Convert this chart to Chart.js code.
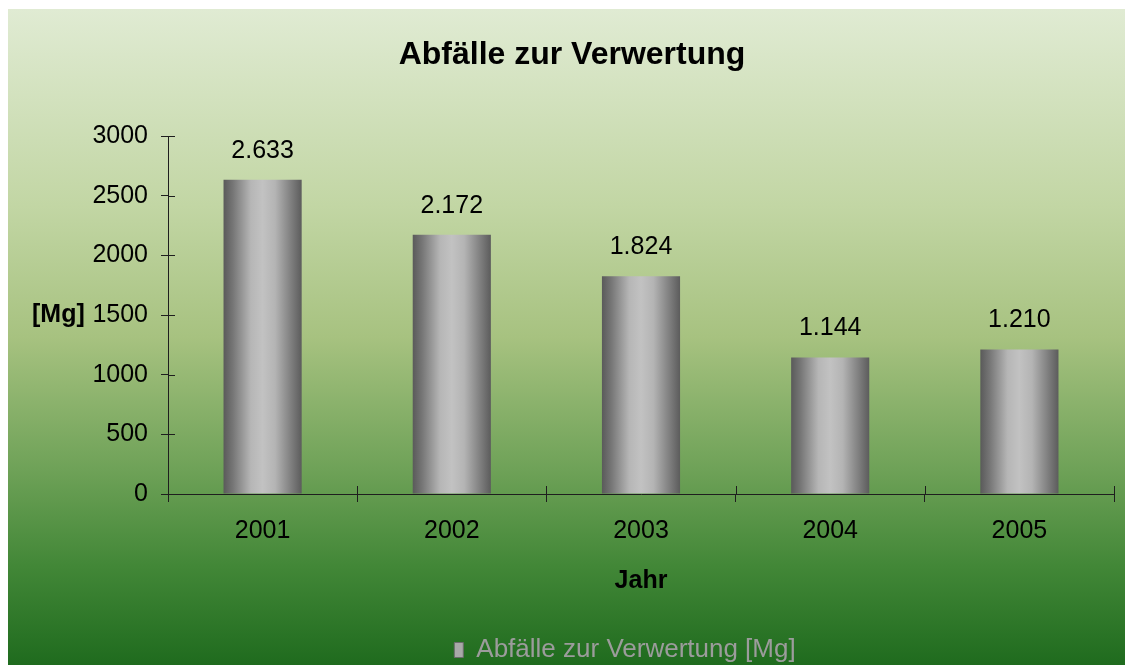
<!DOCTYPE html>
<html>
<head>
<meta charset="utf-8">
<script src="https://cdn.jsdelivr.net/npm/chart.js@4.4.1/dist/chart.umd.min.js"></script>
<style>
  html, body { margin: 0; padding: 0; background: #fff; }
</style>
</head>
<body>
<canvas id="chart" width="1125" height="665"></canvas>
<script>
const years = ['2001', '2002', '2003', '2004', '2005'];
const amounts = [2633, 2172, 1824, 1144, 1210];
const yTicks = [0, 500, 1000, 1500, 2000, 2500, 3000];
const seriesName = 'Abfälle zur Verwertung [Mg]';

const FONT = "'Liberation Sans', Arial, sans-serif";
const AXIS = '#1e1e1e';
const BAR_SHARE = 0.413;

// 2633 -> "2.633"
function deNumber(v) {
  if (v < 1000) return String(v);
  return Math.floor(v / 1000) + '.' + String(v % 1000).padStart(3, '0');
}

function barFill(context) {
  const chart = context.chart;
  const x = chart.scales && chart.scales.x;
  if (!chart.chartArea || !x || context.type !== 'data') return '#a8a8a8';
  const cx = x.getPixelForValue(context.dataIndex);
  const w = (x.getPixelForValue(1) - x.getPixelForValue(0)) * BAR_SHARE;
  const g = chart.ctx.createLinearGradient(cx - w / 2, 0, cx + w / 2, 0);
  g.addColorStop(0, '#5a5a5a');
  g.addColorStop(0.12, '#767676');
  g.addColorStop(0.35, '#b6b6b6');
  g.addColorStop(0.5, '#c2c2c2');
  g.addColorStop(0.66, '#b4b4b4');
  g.addColorStop(0.86, '#808080');
  g.addColorStop(1, '#5c5c5c');
  return g;
}

const backdrop = {
  id: 'backdrop',
  beforeDraw(chart) {
    const { ctx, width, height } = chart;
    ctx.save();
    ctx.fillStyle = '#fff';
    ctx.fillRect(0, 0, width, height);
    const g = ctx.createLinearGradient(0, 9, 0, height);
    g.addColorStop(0, '#e0ebd3');
    g.addColorStop(0.3, '#c2d6a4');
    g.addColorStop(0.5, '#a7c280');
    g.addColorStop(0.7, '#6fa258');
    g.addColorStop(0.85, '#428737');
    g.addColorStop(1, '#1f6b1e');
    ctx.fillStyle = g;
    ctx.fillRect(8, 9, width - 8, height - 9);
    ctx.restore();
  }
};

// legend sits a bit left of the plot centre and slightly lower
const legendNudge = {
  id: 'legendNudge',
  afterLayout(chart) {
    const lg = chart.legend;
    if (!lg) return;
    lg.left -= 32;
    lg.top += 2;
    lg.bottom += 2;
  }
};

// tick marks that cross the axes, inner half
const innerTicks = {
  id: 'innerTicks',
  afterDatasetsDraw(chart) {
    const { ctx, scales: { x, y } } = chart;
    ctx.save();
    ctx.strokeStyle = AXIS;
    ctx.lineWidth = 1;
    ctx.beginPath();
    y.ticks.forEach(t => {
      const py = Math.round(y.getPixelForValue(t.value)) + 0.5;
      ctx.moveTo(x.left, py);
      ctx.lineTo(x.left + 7, py);
    });
    const half = (x.getPixelForValue(1) - x.getPixelForValue(0)) / 2;
    years.forEach((_, i) => {
      const px = Math.round(x.getPixelForValue(i) + half) + 0.5;
      ctx.moveTo(px, y.bottom);
      ctx.lineTo(px, y.bottom - 8);
    });
    ctx.stroke();
    ctx.restore();
  }
};

const valueLabels = {
  id: 'valueLabels',
  afterDatasetsDraw(chart) {
    const { ctx } = chart;
    const meta = chart.getDatasetMeta(0);
    ctx.save();
    ctx.fillStyle = '#000';
    ctx.font = '25px ' + FONT;
    ctx.textAlign = 'center';
    ctx.textBaseline = 'middle';
    meta.data.forEach((bar, i) => {
      ctx.fillText(deNumber(amounts[i]), bar.x, bar.y - 29);
    });
    ctx.restore();
  }
};

// horizontal y-axis caption
const yCaption = {
  id: 'yCaption',
  afterDraw(chart) {
    const { ctx, scales: { y } } = chart;
    ctx.save();
    ctx.fillStyle = '#000';
    ctx.font = 'bold 25px ' + FONT;
    ctx.textAlign = 'left';
    ctx.textBaseline = 'middle';
    ctx.fillText('[Mg]', y.left + 2, y.getPixelForValue(1500));
    ctx.restore();
  }
};

new Chart(document.getElementById('chart'), {
  type: 'bar',
  data: {
    labels: years,
    datasets: [{
      label: seriesName,
      data: amounts,
      backgroundColor: barFill,
      borderWidth: 0,
      categoryPercentage: 1,
      barPercentage: BAR_SHARE,
    }],
  },
  options: {
    responsive: false,
    animation: false,
    layout: { padding: { top: 9, right: 11, bottom: -6, left: 30 } },
    plugins: {
      title: {
        display: true,
        text: 'Abfälle zur Verwertung',
        color: '#000',
        font: { family: FONT, size: 32, weight: 'bold' },
        padding: { top: 27, bottom: 61.6 },
      },
      legend: {
        position: 'bottom',
        fullSize: false,
        labels: {
          color: '#9c9c9c',
          font: { family: FONT, size: 26 },
          boxWidth: 9,
          boxHeight: 15,
          padding: 10,
          generateLabels: chart =>
            Chart.defaults.plugins.legend.labels.generateLabels(chart).map(l => ({
              ...l, fillStyle: '#a9a9a9', strokeStyle: '#6c6c6c', lineWidth: 1,
            })),
        },
      },
      tooltip: { enabled: false },
    },
    scales: {
      x: {
        grid: { drawOnChartArea: false, tickLength: 8, color: AXIS, offset: true },
        border: { color: AXIS, width: 1 },
        ticks: { color: '#000', font: { family: FONT, size: 25 }, padding: 14 },
        title: {
          display: true,
          text: 'Jahr',
          color: '#000',
          font: { family: FONT, size: 25, weight: 'bold' },
          padding: { top: 0, bottom: 29 },
        },
        afterFit(scale) { scale.height = 131; },
      },
      y: {
        min: 0,
        max: 3000,
        afterBuildTicks(scale) { scale.ticks = yTicks.map(v => ({ value: v })); },
        grid: { drawOnChartArea: false, tickLength: 7, color: AXIS },
        border: { color: AXIS, width: 1 },
        ticks: { color: '#000', font: { family: FONT, size: 25 }, padding: 13, callback: v => String(v) },
        afterFit(scale) { scale.width = 138; },
      },
    },
  },
  plugins: [backdrop, legendNudge, innerTicks, valueLabels, yCaption],
});
</script>
</body>
</html>
